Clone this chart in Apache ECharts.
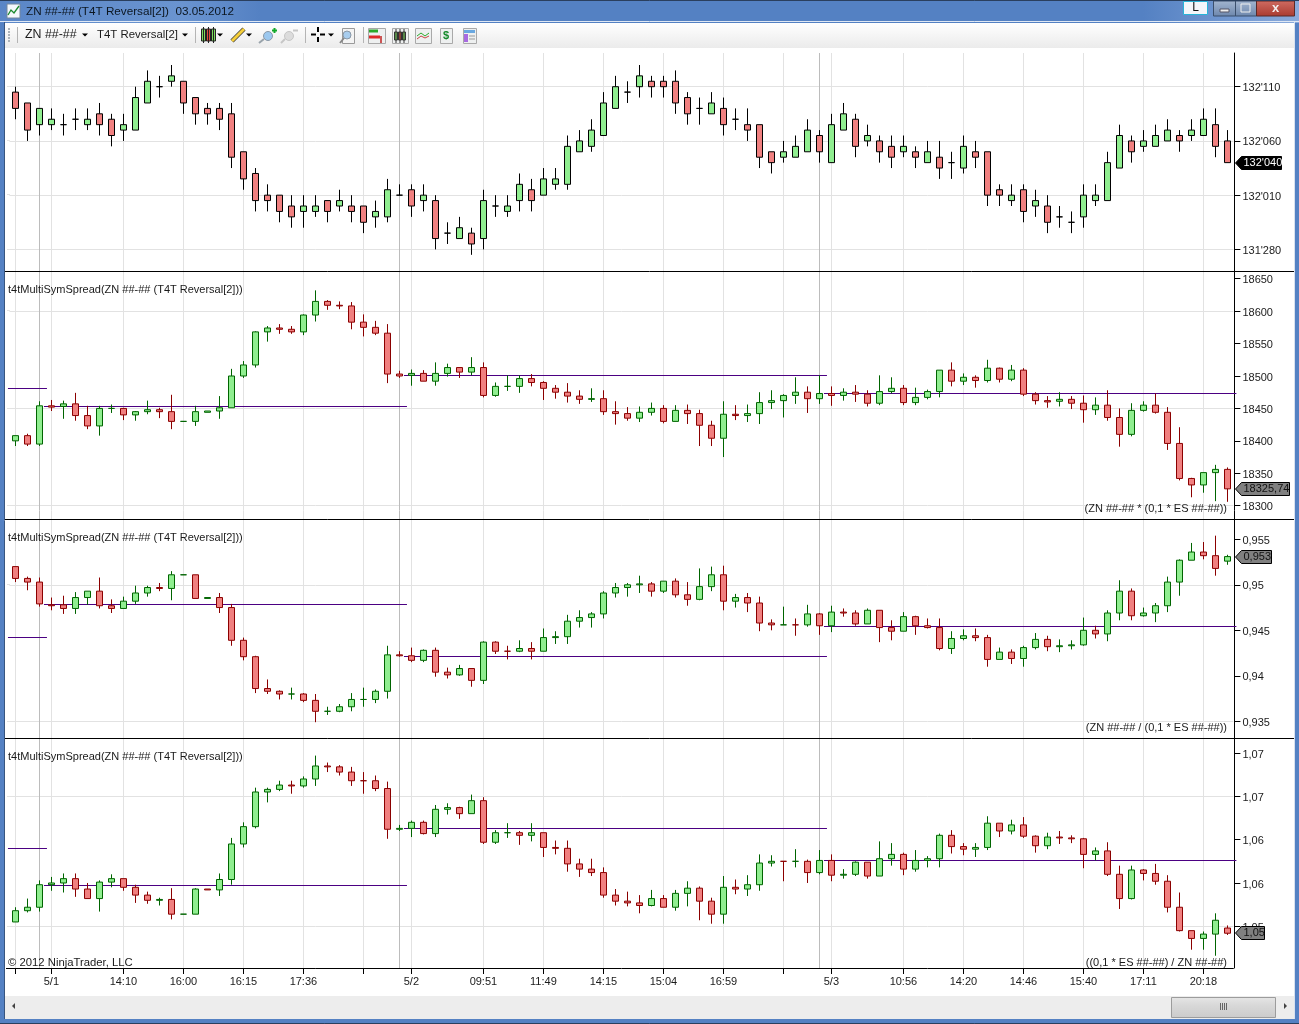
<!DOCTYPE html>
<html><head><meta charset="utf-8">
<style>html,body{margin:0;padding:0;background:#fff;overflow:hidden}#c{width:1299px;height:1024px}</style>
<script src="https://cdn.jsdelivr.net/npm/echarts@6/dist/echarts.min.js"></script>
</head><body><div id="c"></div>
<script>
// Bars as [open, high, low, close]
// ZN price in half-32nds above 131'280
const znBars=[[29,30,24,26],[27,27,20,22],[23,26,21,26],[23,26,22,24],[23,25,21,23],[24,26,22,24],[23,26,22,24],[25,27,21,23],[24,25,19,21],[22,25,20,23],[22,30,22,28],[27,33,27,31],[30,32,28,30],[31,34,30,32],[31,31,25,27],[28,28,23,25],[26,27,23,25],[26,27,22,24],[25,27,15,17],[18,18,11,13],[14,15,7,9],[10,12,7,9],[10,10,5,7],[8,10,4,6],[7,10,4,8],[7,10,6,8],[9,9,5,7],[8,11,7,9],[8,10,5,7],[8,8,3,5],[6,9,4,7],[6,13,5,11],[10,12,10,10],[11,12,6,8],[9,12,7,10],[9,10,0,2],[3,5,1,3],[2,6,2,4],[3,4,-1,1],[2,11,0,9],[8,10,6,8],[7,10,6,8],[9,14,7,12],[11,13,7,9],[10,15,10,13],[12,15,11,13],[12,21,11,19],[18,22,18,20],[19,24,18,22],[21,29,21,27],[26,32,26,30],[29,31,27,29],[30,34,28,32],[31,32,28,30],[31,32,28,30],[31,33,25,27],[28,29,23,25],[26,28,23,26],[25,29,25,27],[26,28,21,23],[24,26,22,24],[23,26,20,22],[23,23,15,17],[18,18,14,16],[17,20,16,18],[17,21,17,19],[18,24,18,22],[21,22,16,18],[16,25,16,23],[22,27,22,25],[24,25,17,19],[20,23,19,21],[20,21,16,18],[19,21,15,17],[18,21,17,19],[18,19,15,17],[16,20,16,18],[17,20,13,15],[16,18,13,16],[15,21,14,19],[18,20,15,17],[18,18,8,10],[11,12,8,10],[9,12,8,10],[11,12,5,7],[8,11,6,9],[8,10,3,5],[6,8,4,6],[5,7,3,5],[6,12,4,10],[9,12,8,10],[9,18,9,16],[15,23,15,21],[20,21,16,18],[19,22,18,20],[19,23,19,21],[20,24,20,22],[21,22,18,20],[21,24,20,22],[21,26,21,24],[23,26,17,19],[20,22,16,16]];
// ZN * (0,1 * ES)
const productBars=[[18400,18408,18392,18408],[18408,18411,18392,18395],[18395,18461,18392,18454],[18454,18463,18446,18452],[18453,18462,18434,18457],[18457,18474,18431,18439],[18439,18454,18418,18423],[18423,18454,18408,18450],[18450,18456,18443,18450],[18450,18451,18432,18440],[18440,18446,18431,18445],[18445,18462,18441,18448],[18448,18451,18435,18445],[18445,18471,18418,18430],[18430,18430,18430,18430],[18430,18454,18423,18445],[18444,18446,18444,18446],[18446,18469,18434,18451],[18451,18511,18451,18500],[18500,18523,18497,18517],[18517,18569,18513,18568],[18568,18577,18553,18574],[18574,18580,18565,18572],[18572,18577,18565,18568],[18568,18595,18563,18594],[18594,18632,18584,18615],[18615,18617,18602,18609],[18609,18615,18603,18608],[18608,18614,18572,18583],[18583,18595,18561,18575],[18575,18585,18563,18566],[18566,18580,18489,18503],[18503,18508,18497,18500],[18501,18510,18485,18504],[18504,18509,18492,18492],[18492,18521,18485,18504],[18504,18519,18499,18513],[18513,18513,18497,18506],[18506,18529,18501,18513],[18513,18521,18467,18470],[18470,18490,18468,18484],[18484,18501,18477,18484],[18484,18501,18474,18496],[18496,18503,18484,18490],[18490,18492,18463,18481],[18481,18486,18465,18475],[18475,18489,18459,18469],[18469,18478,18457,18464],[18464,18481,18460,18465],[18465,18478,18440,18445],[18445,18461,18425,18442],[18442,18452,18431,18435],[18435,18453,18429,18444],[18444,18459,18439,18450],[18450,18455,18427,18430],[18430,18455,18430,18447],[18447,18456,18426,18442],[18442,18448,18392,18424],[18424,18431,18392,18404],[18404,18461,18375,18441],[18441,18455,18432,18439],[18439,18456,18429,18442],[18442,18475,18426,18459],[18459,18478,18449,18462],[18462,18472,18436,18470],[18470,18498,18457,18475],[18475,18484,18443,18465],[18465,18501,18457,18473],[18473,18484,18454,18470],[18470,18481,18462,18475],[18475,18486,18460,18472],[18472,18478,18453,18458],[18458,18501,18455,18476],[18476,18498,18473,18481],[18481,18486,18455,18459],[18459,18482,18455,18467],[18467,18479,18464,18476],[18476,18509,18467,18509],[18509,18521,18484,18492],[18492,18504,18486,18498],[18498,18501,18482,18493],[18493,18525,18490,18512],[18512,18513,18490,18495],[18495,18517,18492,18509],[18509,18512,18469,18472],[18472,18475,18456,18462],[18462,18469,18451,18460],[18461,18475,18453,18464],[18464,18469,18449,18458],[18458,18470,18428,18448],[18448,18467,18440,18455],[18455,18478,18431,18436],[18436,18450,18391,18410],[18410,18458,18407,18447],[18447,18461,18445,18455],[18455,18473,18442,18444],[18444,18452,18386,18396],[18396,18421,18339,18342],[18342,18343,18313,18332],[18332,18351,18320,18351],[18351,18363,18307,18356],[18356,18359,18306,18326]];
// ZN / (0,1 * ES), in ten-thousandths
const ratioBars=[[9520,9520,9503,9507],[9507,9509,9494,9503],[9503,9508,9476,9479],[9478,9486,9472,9477],[9478,9488,9468,9474],[9474,9492,9468,9486],[9486,9493,9478,9493],[9493,9508,9474,9477],[9477,9484,9469,9474],[9474,9487,9474,9482],[9482,9499,9479,9491],[9491,9499,9487,9497],[9497,9502,9493,9496],[9496,9515,9483,9511],[9511,9511,9511,9511],[9511,9511,9485,9485],[9485,9486,9485,9486],[9486,9491,9469,9475],[9475,9479,9433,9439],[9439,9442,9417,9421],[9421,9422,9381,9386],[9386,9396,9380,9383],[9383,9384,9374,9380],[9380,9387,9374,9380],[9380,9381,9371,9373],[9373,9380,9349,9361],[9361,9366,9357,9361],[9361,9369,9360,9366],[9366,9381,9361,9374],[9374,9387,9366,9374],[9374,9385,9370,9383],[9383,9433,9375,9423],[9423,9427,9421,9422],[9422,9431,9415,9417],[9417,9429,9415,9428],[9428,9431,9399,9404],[9404,9409,9397,9401],[9401,9412,9400,9408],[9408,9408,9388,9395],[9395,9438,9391,9437],[9437,9438,9424,9427],[9427,9433,9418,9427],[9427,9439,9426,9430],[9430,9437,9418,9427],[9427,9452,9427,9442],[9442,9449,9435,9443],[9443,9467,9435,9460],[9460,9472,9453,9464],[9464,9470,9453,9468],[9468,9493,9463,9491],[9491,9502,9486,9497],[9497,9502,9487,9500],[9500,9510,9491,9501],[9501,9503,9487,9493],[9493,9504,9491,9504],[9504,9507,9486,9489],[9489,9503,9477,9484],[9484,9518,9483,9498],[9498,9520,9493,9511],[9511,9521,9472,9482],[9482,9490,9475,9486],[9486,9491,9470,9480],[9480,9487,9449,9458],[9458,9462,9450,9456],[9456,9476,9456,9456],[9456,9463,9444,9456],[9456,9478,9454,9468],[9468,9469,9445,9455],[9455,9477,9448,9470],[9470,9474,9465,9469],[9469,9472,9455,9457],[9457,9474,9457,9472],[9472,9472,9437,9453],[9453,9461,9439,9449],[9449,9470,9449,9465],[9465,9466,9445,9455],[9455,9463,9452,9453],[9453,9463,9428,9430],[9430,9449,9424,9441],[9441,9451,9439,9444],[9444,9452,9438,9442],[9442,9445,9410,9418],[9418,9431,9418,9426],[9426,9429,9413,9419],[9419,9433,9410,9431],[9431,9447,9429,9440],[9440,9444,9427,9432],[9432,9440,9426,9433],[9433,9439,9429,9434],[9434,9464,9433,9450],[9450,9455,9441,9446],[9446,9472,9438,9469],[9469,9505,9461,9493],[9493,9496,9461,9466],[9466,9475,9465,9469],[9469,9480,9459,9477],[9477,9509,9470,9503],[9503,9528,9488,9527],[9527,9546,9527,9536],[9536,9547,9528,9532],[9532,9554,9510,9518],[9526,9533,9522,9531]];
// (0,1 * ES) / ZN, in ten-thousandths
const inverseBars=[[10505,10522,10505,10518],[10518,10532,10516,10522],[10522,10553,10517,10548],[10548,10557,10541,10550],[10550,10561,10539,10555],[10555,10561,10534,10543],[10543,10550,10532,10532],[10532,10553,10517,10551],[10551,10560,10545,10555],[10555,10555,10541,10545],[10545,10548,10527,10536],[10536,10540,10526,10530],[10530,10533,10524,10531],[10531,10544,10508,10514],[10514,10514,10514,10514],[10514,10544,10514,10543],[10543,10543,10542,10542],[10542,10561,10535,10554],[10554,10602,10548,10595],[10595,10620,10591,10615],[10615,10660,10613,10655],[10655,10660,10643,10658],[10658,10668,10656,10663],[10663,10668,10653,10662],[10662,10673,10660,10670],[10670,10697,10662,10685],[10685,10689,10678,10684],[10684,10686,10674,10678],[10678,10684,10662,10668],[10668,10678,10653,10668],[10668,10674,10656,10659],[10659,10667,10601,10612],[10612,10617,10610,10613],[10613,10622,10603,10620],[10620,10622,10606,10607],[10607,10640,10603,10635],[10635,10642,10629,10637],[10637,10638,10624,10630],[10630,10652,10630,10645],[10645,10649,10595,10597],[10597,10611,10595,10608],[10608,10619,10602,10608],[10608,10610,10594,10605],[10605,10619,10598,10608],[10608,10608,10580,10591],[10591,10599,10583,10590],[10590,10599,10563,10572],[10572,10578,10557,10566],[10566,10578,10558,10562],[10562,10568,10533,10536],[10536,10543,10524,10529],[10529,10540,10523,10527],[10527,10536,10515,10524],[10524,10542,10523,10532],[10532,10536,10522,10522],[10522,10542,10518,10538],[10538,10552,10523,10544],[10544,10546,10507,10529],[10529,10533,10503,10514],[10514,10558,10503,10545],[10545,10554,10537,10543],[10543,10559,10535,10548],[10548,10583,10541,10573],[10573,10582,10569,10575],[10575,10575,10552,10575],[10575,10589,10568,10575],[10575,10577,10550,10562],[10562,10588,10560,10576],[10576,10583,10552,10559],[10559,10566,10555,10560],[10560,10575,10558,10574],[10574,10574,10555,10558],[10558,10598,10558,10578],[10578,10596,10570,10583],[10583,10585,10559,10566],[10566,10588,10563,10576],[10576,10581,10568,10578],[10578,10607,10568,10605],[10605,10611,10584,10592],[10592,10596,10582,10589],[10589,10596,10580,10591],[10591,10627,10588,10619],[10619,10619,10603,10610],[10610,10623,10606,10617],[10617,10626,10602,10604],[10604,10605,10585,10593],[10593,10608,10589,10603],[10603,10610,10595,10602],[10602,10605,10596,10601],[10601,10602,10567,10583],[10583,10591,10576,10587],[10587,10597,10558,10560],[10560,10570,10520,10532],[10532,10570,10531,10565],[10565,10566,10553,10561],[10561,10572,10548,10552],[10552,10559,10516,10522],[10522,10539,10494,10495],[10495,10495,10473,10486],[10486,10494,10473,10491],[10491,10515,10466,10507],[10498,10501,10490,10492]];

// Exact-doji bars drawn in the falling colour (bar indices)
const productDojiDown=[], ratioDojiDown=[41,65], inverseDojiDown=[29,64];

// Prior-session level lines
const levelStart=[-0.62,2.38,32.38,67.38];
const levelEnd=[2.63,32.63,67.63,101.75];
const productLevels=[18482,18454,18501,18473];
const ratioLevels=[9443,9479,9422,9455];
const inverseLevels=[10590,10548,10613,10576];

// Time axis
const xTickBars=[0,3,9,14,19,24,29,33,39,44,49,54,59,64,68,74,79,84,89,94,99];
const xTickLabels=['','5/1','14:10','16:00','16:15','17:36','','5/2','09:51','11:49','14:15','15:04','16:59','','5/3','10:56','14:20','14:46','15:40','17:11','20:18'];
const sessionBreakBars=[2,32,67];

// Y axis tick labels, bottom to top
const znTicks=["131'280","132'010","132'060","132'110"];
const productTicks=['18300','18350','18400','18450','18500','18550','18600','18650'];
const ratioTicks=['0,935','0,94','0,945','0,95','0,955'];
const inverseTicks=['1,05','1,06','1,06','1,07','1,07'];
const flagLabels=["132'040",'18325,74','0,953','1,05'];

const FONT='"Liberation Sans", Arial, sans-serif';
const panes=[
 {bars:znBars,top:86.7,bottom:249.4,min:0,max:30,step:10,gridStep:10,ticks:znTicks,up:'#000',down:'#000',levels:null,doji:[]},
 {bars:productBars,top:278.7,bottom:505.7,min:18300,max:18650,step:50,gridStep:150,ticks:productTicks,up:'#006400',down:'#8b0000',levels:productLevels,doji:productDojiDown},
 {bars:ratioBars,top:539.3,bottom:721.3,min:9350,max:9550,step:50,gridStep:150,ticks:ratioTicks,up:'#006400',down:'#8b0000',levels:ratioLevels,doji:ratioDojiDown},
 {bars:inverseBars,top:753,bottom:926.3,min:10500,max:10700,step:50,gridStep:150,ticks:inverseTicks,up:'#006400',down:'#8b0000',levels:inverseLevels,doji:inverseDojiDown}
];
const LEFT=9.4, RIGHT_GAP=1299-1233.4, W=1299, H=1024;
const categories=znBars.map((_,i)=>{const k=xTickBars.indexOf(i);return k>=0?xTickLabels[k]:'';});
const isTick=idx=>xTickBars.includes(idx);
const GRIDC='#e2e2e2';

const grid=[{left:LEFT,right:RIGHT_GAP,top:53,height:915}];
const xAxis=[{type:'category',gridIndex:0,data:categories,
  axisLine:{show:true,lineStyle:{color:'#000',width:1}},
  axisTick:{show:true,interval:(i)=>isTick(i),alignWithLabel:true,length:6,lineStyle:{color:'#000'}},
  axisLabel:{interval:(i)=>isTick(i),color:'#1a1a1a',fontFamily:FONT,fontSize:11,margin:8},
  splitLine:{show:true,interval:(i)=>isTick(i),alignWithLabel:true,lineStyle:{color:GRIDC,width:1}}
}];
const yAxis=[{type:'value',gridIndex:0,position:'right',offset:1,min:0,max:1,
  axisLine:{show:true,onZero:false,lineStyle:{color:'#000',width:1}},axisTick:{show:false},axisLabel:{show:false},splitLine:{show:false}}];
const series=[{type:'custom',xAxisIndex:0,yAxisIndex:0,z:1,silent:true,clip:false,
  data:sessionBreakBars.map(b=>[b,0]),
  renderItem:(p,api)=>{const a=api.coord([api.value(0),0]),b=api.coord([api.value(0),1]);
    return {type:'line',shape:{x1:Math.round(a[0])+0.5,y1:a[1],x2:Math.round(a[0])+0.5,y2:b[1]},style:{stroke:'#bcbcbc',lineWidth:1}};}
}];
panes.forEach((p,n)=>{
  const gi=n+1;
  grid.push({left:LEFT,right:RIGHT_GAP,top:p.top,height:p.bottom-p.top});
  xAxis.push({type:'category',gridIndex:gi,data:categories,show:false});
  const tickAxis=yAxis.length;
  yAxis.push({type:'value',gridIndex:gi,position:'right',offset:1,min:p.min,max:p.max,interval:p.step,
    axisLine:{show:false},axisTick:{show:true,length:6,lineStyle:{color:'#000'}},
    axisLabel:{margin:8,
      rich:{t:{color:'#1a1a1a',fontFamily:FONT,fontSize:11,padding:[3,0,0,0]}},
      formatter:v=>'{t|'+p.ticks[Math.round((v-p.min)/p.step)]+'}'},
    splitLine:{show:false}});
  yAxis.push({type:'value',gridIndex:gi,position:'right',min:0,max:p.max-p.min,interval:p.gridStep,
    axisLine:{show:false},axisTick:{show:false},axisLabel:{show:false},
    splitLine:{show:true,showMaxLine:n===0,lineStyle:{color:GRIDC,width:1}}});
  if(p.levels){
    series.push({type:'custom',xAxisIndex:gi,yAxisIndex:tickAxis,z:2,silent:true,clip:false,
      data:p.levels.map((v,i)=>[i,v]),
      renderItem:(prm,api)=>{
        const i=prm.dataIndex,v=p.levels[i],band=api.size([1,0])[0];
        const pt=api.coord([1,v]),base=pt[0]-band;
        const x1=base+levelStart[i]*band,x2=base+levelEnd[i]*band;
        return {type:'line',shape:{x1,y1:Math.round(pt[1])+0.5,x2,y2:Math.round(pt[1])+0.5},style:{stroke:'#4b0082',lineWidth:1}};
      }});
  }
  series.push({type:'candlestick',xAxisIndex:gi,yAxisIndex:tickAxis,z:3,clip:false,silent:true,barWidth:7,
    itemStyle:{color:'#90ee90',color0:'#f08080',borderColor:p.up,borderColor0:p.down,borderWidth:1},
    data:p.bars.map((b,i)=>{
      const item={value:[b[0],b[3],b[2],b[1]]};
      if(b[0]===b[3]){const c=p.doji.includes(i)?p.down:p.up;item.itemStyle={borderColor:c,borderColor0:c};}
      return item;
    })});
});

// ---- window chrome and captions ----
const g=[];const Z=100;
const rect=(x,y,w,h,fill,stroke,extra)=>g.push(Object.assign({type:'rect',z:Z,silent:true,shape:{x,y,width:w,height:h},style:{fill:fill,stroke:stroke||null,lineWidth:1}},extra||{}));
const line=(x1,y1,x2,y2,c,w)=>g.push({type:'line',z:Z+1,silent:true,shape:{x1,y1,x2,y2},style:{stroke:c,lineWidth:w||1}});
const txt=(x,y,s,o)=>g.push({type:'text',z:Z+2,silent:true,x,y,style:Object.assign({text:s,fill:'#1a1a1a',font:'11px '+FONT,textVerticalAlign:'middle',textAlign:'left'},o||{})});
const tri=(x,y,c)=>g.push({type:'polygon',z:Z+1,silent:true,shape:{points:[[x-3,y-1.5],[x+3,y-1.5],[x,y+1.5]]},style:{fill:c||'#000'}});
const lin=(stops)=>({type:'linear',x:0,y:0,x2:1,y2:0,colorStops:stops});
const vlin=(stops)=>({type:'linear',x:0,y:0,x2:0,y2:1,colorStops:stops});

rect(0,0,W,23,lin([{offset:0,color:'#5a86c7'},{offset:0.14,color:'#6a94d0'},{offset:0.2,color:'#5481c3'},{offset:0.88,color:'#5481c3'},{offset:1,color:'#8aaadb'}]));
line(0,0.5,W,0.5,'#2a3f5e');
line(0,21.5,W,21.5,'#dfe8f4');
rect(0,23,4,1001,'#5481c3');rect(1295,23,4,1001,'#5481c3');rect(0,1019,W,5,'#5481c3');
line(4.5,22,4.5,1019,'#38557f');line(1294.5,22,1294.5,1019,'#d8e2f0');line(0,1023.5,W,1023.5,'#2a3f5e');
rect(5,23,1290,25,vlin([{offset:0,color:'#ffffff'},{offset:1,color:'#ebebeb'}]));
rect(5,996,1290,23,'#ededed');
line(6,968.5,10,968.5,'#000');
// title
rect(7,4,13,14,'#f5f8fc','#74869c');
g.push({type:'polyline',z:Z+1,silent:true,shape:{points:[[8,15],[11,10],[14,13],[19,6]]},style:{stroke:'#1c8a2e',fill:null,lineWidth:1.3}});
txt(26,12,'ZN ##-## (T4T Reversal[2])  03.05.2012',{font:'11.7px '+FONT,fill:'#0c1620'});
// window buttons
rect(1183.5,1.5,24,13,'#f4f6fa','#28b4d8');
txt(1195.5,8,'L',{font:'12px '+FONT,textAlign:'center',fill:'#111'});
rect(1213.5,1,22,15,vlin([{offset:0,color:'#a4b6d0'},{offset:1,color:'#6c86ac'}]),'#3b4f6c');
rect(1235.5,1,21,15,vlin([{offset:0,color:'#a4b6d0'},{offset:1,color:'#6c86ac'}]),'#3b4f6c');
rect(1256.5,1,38,15,vlin([{offset:0,color:'#cf6c62'},{offset:1,color:'#a93a30'}]),'#5a2a28');
rect(1220,9,9,3,'#eee','#556');rect(1241,4,9,8,'rgba(0,0,0,0)','#eee');
txt(1275.5,8,'x',{font:'bold 13px '+FONT,textAlign:'center',fill:'#f3eeee'});
// toolbar
for(let y=28;y<42;y+=3)rect(8,y,2,2,'#aeb4ba');
line(17.5,27,17.5,43,'#b4b4b4');line(195.5,27,195.5,43,'#b4b4b4');line(305.5,27,305.5,43,'#b4b4b4');line(363.5,27,363.5,43,'#b4b4b4');
txt(25,35,'ZN ##-##',{font:'12.4px '+FONT});tri(85,35);
txt(97,35,'T4T Reversal[2]',{font:'11.4px '+FONT});tri(185,35);
// candle icon
[[202,'#7ce05c'],[207,'#e04a3c'],[212,'#7ce05c']].forEach(([x,c])=>{rect(x-0.5,29,4,12,c,'#222');line(x+1.5,27,x+1.5,43,'#222');});tri(220,35);
// pencil
line(232,41,244,29,'#3a3a3a',4.5);line(232,41,244,29,'#f6cf3a',3);tri(249,35);
// zoom in
g.push({type:'circle',z:Z+1,silent:true,shape:{cx:268,cy:36,r:4.5},style:{fill:'#9cc8ef',stroke:'#8a98a6'}});line(264,39,259,43,'#9aa4ac',2);
line(272,30.5,277,30.5,'#12a82a',2);line(274.5,28,274.5,33,'#12a82a',2);
// zoom out
g.push({type:'circle',z:Z+1,silent:true,shape:{cx:289,cy:36,r:4.5},style:{fill:'#dcdcdc',stroke:'#c6c6c6'}});line(285,39,281,43,'#c6c6c6',2);line(293,30.5,298,30.5,'#c6c6c6',2);
// crosshair
line(311,34.5,316,34.5,'#000',2);line(320,34.5,325,34.5,'#000',2);line(318,27,318,32,'#000',2);line(318,37,318,42,'#000',2);tri(331,35);
// find
rect(342.5,28.5,12,15,'#f4f4f4','#9a9a9a');g.push({type:'circle',z:Z+1,silent:true,shape:{cx:347,cy:35,r:4},style:{fill:'#a8cdee',stroke:'#8a98a6'}});line(344,38,340,43,'#888',2);
// properties buttons
[[368,17],[392,16],[415,16],[440,12],[463,13]].forEach(([x,w])=>rect(x+0.5,28.5,w,15,'#eef0f0','#a9a9a9'));
line(369,31,378,31,'#2aa92a',3);line(369,37,380,37,'#dd2a2a',3);line(381,36,381,43,'#cc5555',2);
[[396,'#7ce05c'],[400,'#e04a3c'],[404,'#7ce05c']].forEach(([x,c])=>{rect(x-1.5,32,3,8,c,'#333');line(x,29,x,43,'#333');});
g.push({type:'polyline',z:Z+1,silent:true,shape:{points:[[417,36],[421,33],[425,36],[429,33]]},style:{stroke:'#2aa92a',fill:null}});
g.push({type:'polyline',z:Z+1,silent:true,shape:{points:[[417,39],[421,36],[425,38],[429,36]]},style:{stroke:'#c94444',fill:null}});
txt(446,36,'$',{font:'bold 11px '+FONT,textAlign:'center',fill:'#168a2c'});
rect(464,30,11,3,'#6aa8e0');rect(464,34,4,8,'#a86ae0');line(469,36,475,36,'#999');line(469,39,475,39,'#999');
// scrollbar
g.push({type:'polygon',z:Z+1,silent:true,shape:{points:[[15,1003],[15,1009],[12,1006]]},style:{fill:'#444'}});
g.push({type:'polygon',z:Z+1,silent:true,shape:{points:[[1284,1003],[1284,1009],[1287,1006]]},style:{fill:'#444'}});
rect(1171.5,997.5,104,20,vlin([{offset:0,color:'#e6e6e6'},{offset:0.4,color:'#d8d8d8'},{offset:1,color:'#cbcbcb'}]),'#9c9c9c');
[1220,1222,1224,1226].forEach(x=>line(x+0.5,1003,x+0.5,1010,'#666'));
// pane separators
[271.5,519.5,738.5].forEach(y=>line(5,y,1294,y,'#000'));
// captions
const spreadName='t4tMultiSymSpread(ZN ##-## (T4T Reversal[2]))';
[290,538,757].forEach(y=>txt(8,y,spreadName,{font:'11px '+FONT}));
txt(1227,509,'(ZN ##-## * (0,1 * ES ##-##))',{textAlign:'right'});
txt(1227,728,'(ZN ##-## / (0,1 * ES ##-##))',{textAlign:'right'});
txt(1227,962.5,'((0,1 * ES ##-##) / ZN ##-##)',{textAlign:'right'});
txt(8,963,'© 2012 NinjaTrader, LLC',{font:'11.3px '+FONT});

const chart=echarts.init(document.getElementById('c'),null,{renderer:'canvas',width:W,height:H});
chart.setOption({animation:false,backgroundColor:'#fff',grid,xAxis,yAxis,series});

// horizontal gridlines reach slightly left of the first bar slot; price flags come from each pane's last close
const flagW=[46,54,36,29];
panes.forEach((p,n)=>{
  const tickAxis=1+n*2;
  for(let v=0;v<=p.max-p.min;v+=p.gridStep){
    const y=chart.convertToPixel({yAxisIndex:tickAxis},p.min+v);
    const r=Math.round(y*2);const ys=r%2?r/2:(r-1)/2;
    line(7,ys,LEFT+0.5,ys,GRIDC);
  }
  const last=p.bars[p.bars.length-1][3];
  const y=Math.round(chart.convertToPixel({yAxisIndex:tickAxis},last));
  const x=1235.5,w=flagW[n];
  const black=n===0;
  g.push({type:'polygon',z:Z+3,silent:true,shape:{points:[[x,y],[x+6,y-6.5],[x+w,y-6.5],[x+w,y+6.5],[x+6,y+6.5]]},style:{fill:black?'#000':'#808080',stroke:'#000',lineWidth:1}});
  g.push({type:'text',z:Z+4,silent:true,x:x+8,y:y,style:{text:flagLabels[n],fill:black?'#fff':'#111',font:'11px '+FONT,textVerticalAlign:'middle'}});
});
chart.setOption({graphic:{elements:g}});
</script></body></html>
